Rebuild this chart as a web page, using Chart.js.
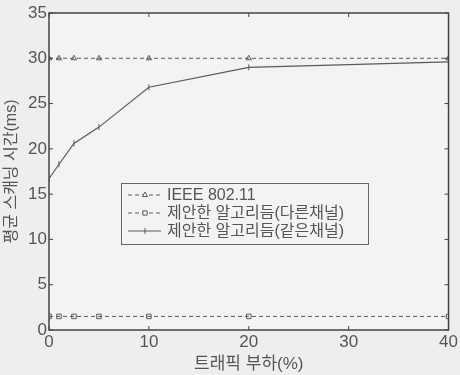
<!DOCTYPE html>
<html><head><meta charset="utf-8">
<script src="https://cdn.jsdelivr.net/npm/chart.js@4.4.0/dist/chart.umd.min.js"></script>
<style>html,body{margin:0;padding:0;background:#eeeeec;}#wrap{width:460px;height:375px;}</style>
</head><body><div id="wrap"><canvas id="c" width="460" height="375"></canvas></div>
<script>
const xValues = [0, 1, 2.5, 5, 10, 20, 40];
const ieee = [30, 30, 30, 30, 30, 30, 30];
const proposedDiff = [1.5, 1.5, 1.5, 1.5, 1.5, 1.5, 1.5];
const proposedSame = [16.7, 18.3, 20.6, 22.4, 26.8, 29.0, 29.6];
const xTicks = [0, 10, 20, 30, 40];
const yTicks = [0, 5, 10, 15, 20, 25, 30, 35];
const seriesLabels = ['IEEE 802.11', '제안한 알고리듬(다른채널)', '제안한 알고리듬(같은채널)'];

const FONT = "'Liberation Sans','Noto Sans CJK KR',sans-serif";
const lineCol = '#5a5a5a';
const bgCol = '#f3f3f1';
const pts = arr => xValues.map((x, i) => ({x, y: arr[i]}));

const boxPlugin = {
  id: 'box',
  beforeDraw(chart) {
    const {ctx, chartArea: a} = chart;
    ctx.save();
    ctx.fillStyle = bgCol;
    ctx.fillRect(a.left, a.top, a.right - a.left, a.bottom - a.top);
    ctx.restore();
  },
  afterDatasetsDraw(chart) {
    const {ctx, chartArea: a, scales} = chart;
    ctx.save();
    ctx.strokeStyle = '#444';
    ctx.lineWidth = 1.5;
    ctx.strokeRect(a.left, a.top, a.right - a.left, a.bottom - a.top);
    ctx.lineWidth = 1;
    xTicks.forEach(v => {
      const x = scales.x.getPixelForValue(v);
      ctx.beginPath(); ctx.moveTo(x, a.bottom); ctx.lineTo(x, a.bottom - 4);
      ctx.moveTo(x, a.top); ctx.lineTo(x, a.top + 4); ctx.stroke();
    });
    yTicks.forEach(v => {
      const y = scales.y.getPixelForValue(v);
      ctx.beginPath(); ctx.moveTo(a.left, y); ctx.lineTo(a.left + 4, y);
      ctx.moveTo(a.right, y); ctx.lineTo(a.right - 4, y); ctx.stroke();
    });
    // legend
    const lx = 121, ly = 183, lw = 247, lh = 61;
    ctx.fillStyle = bgCol;
    ctx.fillRect(lx, ly, lw, lh);
    ctx.strokeStyle = '#666';
    ctx.lineWidth = 1;
    ctx.strokeRect(lx + 0.5, ly + 0.5, lw, lh);
    ctx.font = '16px ' + FONT;
    ctx.textBaseline = 'middle';
    chart.data.datasets.forEach((ds, i) => {
      const y = ly + 12 + i * 18;
      ctx.strokeStyle = lineCol;
      ctx.setLineDash(ds.borderDash || []);
      ctx.beginPath(); ctx.moveTo(lx + 7, y); ctx.lineTo(lx + 40, y); ctx.stroke();
      ctx.setLineDash([]);
      ctx.fillStyle = bgCol;
      Chart.helpers.drawPoint(ctx, {pointStyle: ds.pointStyle, rotation: ds.pointRotation || 0, radius: 3, borderWidth: 1}, lx + 24, y);
      ctx.fillStyle = '#555';
      ctx.fillText(ds.label, lx + 46, y + 1);
    });
    ctx.restore();
  }
};

new Chart(document.getElementById('c'), {
  type: 'line',
  data: {
    datasets: [
      {label: seriesLabels[0], data: pts(ieee), borderColor: lineCol, borderWidth: 1, borderDash: [4, 3], pointStyle: 'triangle', pointRadius: 3, pointBorderColor: lineCol, pointBackgroundColor: 'transparent', pointBorderWidth: 1},
      {label: seriesLabels[1], data: pts(proposedDiff), borderColor: lineCol, borderWidth: 1, borderDash: [4, 3], pointStyle: 'rect', pointRadius: 3.2, pointBorderColor: lineCol, pointBackgroundColor: 'transparent', pointBorderWidth: 1},
      {label: seriesLabels[2], data: pts(proposedSame), borderColor: lineCol, borderWidth: 1.2, pointStyle: 'line', pointRotation: 90, pointRadius: 3, pointBorderColor: lineCol, pointBorderWidth: 1}
    ]
  },
  options: {
    responsive: false, animation: false,
    layout: {padding: {left: 0, right: 7, top: 13, bottom: 0}},
    plugins: {legend: {display: false}, tooltip: {enabled: false}},
    scales: {
      x: {
        type: 'linear', min: 0, max: 40,
        afterFit: s => { s.height = 45; },
        afterBuildTicks: s => { s.ticks = xTicks.map(v => ({value: v})); },
        grid: {display: false, drawTicks: false},
        border: {display: false},
        ticks: {color: '#555', font: {size: 17, family: FONT}, padding: 2},
        title: {display: true, text: '트래픽 부하(%)', color: '#555', font: {size: 17, family: FONT}, padding: {top: 0, bottom: 0}}
      },
      y: {
        type: 'linear', min: 0, max: 35,
        afterFit: s => { s.width = 49; },
        afterBuildTicks: s => { s.ticks = yTicks.map(v => ({value: v})); },
        grid: {display: false, drawTicks: false},
        border: {display: false},
        ticks: {color: '#555', font: {size: 17, family: FONT}, padding: 2},
        title: {display: true, text: '평균 스캐닝 시간(ms)', color: '#555', font: {size: 16, family: FONT}, padding: {top: 2, bottom: 0}}
      }
    }
  },
  plugins: [boxPlugin]
});
</script></body></html>
